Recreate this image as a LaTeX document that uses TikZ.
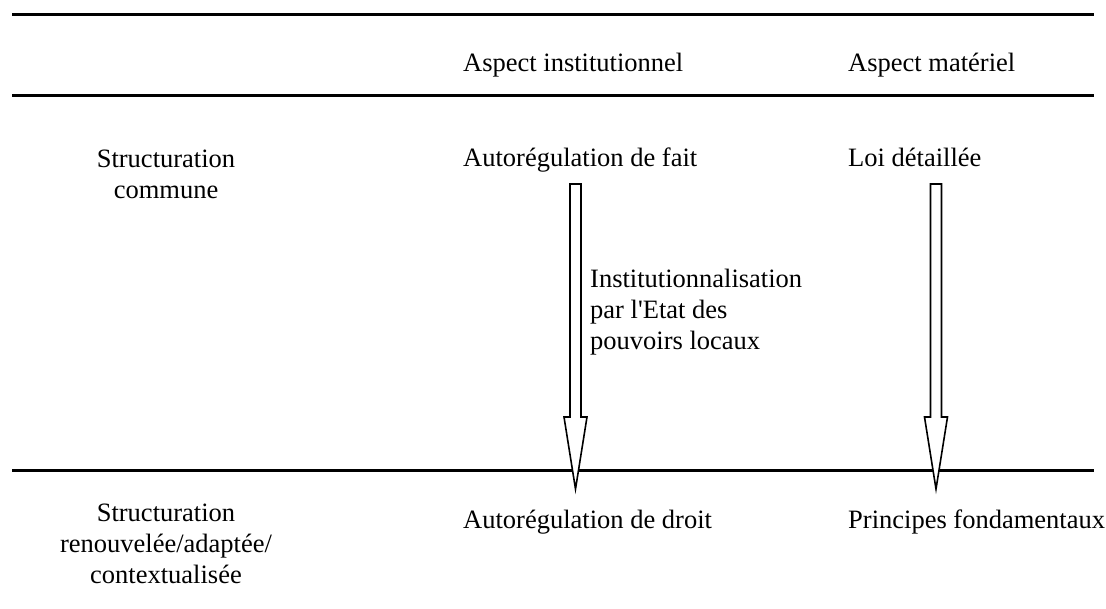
\documentclass[tikz,border=0pt]{standalone}
\usepackage{fontspec}
\setmainfont{Liberation Serif}
\usetikzlibrary{calc}
\newcommand{\straightquote}{\XeTeXglyph\XeTeXcharglyph"27\relax}
% hollow block arrow from #1 (top of shaft) to #2 (tip)
\newcommand{\hollowarrow}[2]{%
  \filldraw[fill=white, line width=1.6pt, line join=miter] let \p1=(#1), \p2=(#2) in
    (\x1-5.5pt,\y1) -- (\x1+5.5pt,\y1) -- (\x1+5.5pt,\y2+72pt)
    -- (\x1+11.5pt,\y2+72pt) -- (\x2,\y2) -- (\x1-11.5pt,\y2+72pt)
    -- (\x1-5.5pt,\y2+72pt) -- cycle;}

\begin{document}
\begin{tikzpicture}[x=1pt, y=-1pt, font=\fontsize{26.5}{31}\selectfont,
    rule/.style={line width=3pt},
    txt/.style={anchor=base west, inner sep=0pt},
    rowhead/.style={align=center, inner sep=0pt}]
  \useasboundingbox (0,0) rectangle (1106,608);
  % rules of the table
  \draw[rule] (12,14) -- (1094,14);
  \draw[rule] (12,95) -- (1094,95);
  \draw[rule] (12,470) -- (1094,470);
  % column heads
  \node[txt] (inst) at (463,71) {Aspect institutionnel};
  \node[txt] (mat) at (848,71) {Aspect matériel};
  % first row
  \node[rowhead] (commune) at (166,174) {Structuration\\commune};
  \node[txt] (fait) at (463,166) {Autorégulation de fait};
  \node[txt] (loi) at (848,166) {Loi détaillée};
  % second row
  \node[rowhead] (renouv) at (166,544) {Structuration\\renouvelée/adaptée/\\contextualisée};
  \node[txt] (droit) at (463,528) {Autorégulation de droit};
  \node[txt] (princ) at (848,528) {Principes fondamentaux};
  % arrows
  \coordinate (faittop) at (575.5,184);
  \coordinate (faittip) at (575.5,489);
  \coordinate (loitop) at (936,184);
  \coordinate (loitip) at (936,489);
  \hollowarrow{faittop}{faittip}
  \hollowarrow{loitop}{loitip}
  \node[anchor=west, inner sep=0pt, align=left] (label) at (590,312) {Institutionnalisation\\par l\straightquote Etat des\\pouvoirs locaux};
\end{tikzpicture}
\end{document}
